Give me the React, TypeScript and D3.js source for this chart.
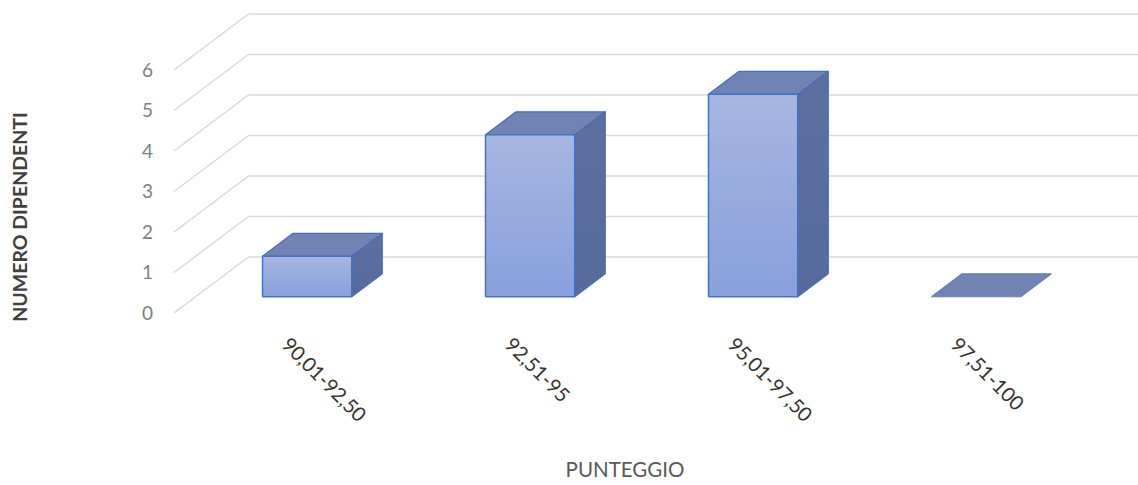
import React from "react";
import * as d3 from "d3";

const categories: string[] = ["90,01-92,50", "92,51-95", "95,01-97,50", "97,51-100"];
const values: number[] = [1, 4, 5, 0];
const yTicks: number[] = [0, 1, 2, 3, 4, 5, 6];
const yTitle = "NUMERO DIPENDENTI";
const xTitle = "PUNTEGGIO";

const W = 1138;
const H = 485;

// front plane of the 3D box
const FRONT_LEFT = 174;
const FRONT_RIGHT = 1066;
const FRONT_Y0 = 313;
const FRONT_YMAX = 70;
// depth vector (oblique projection)
const DX = 74.5;
const DY = -56;
const T1 = 0.29;
const T2 = 0.7;

export default function App() {
  const x = d3
    .scaleBand<string>()
    .domain(categories)
    .range([FRONT_LEFT, FRONT_RIGHT])
    .paddingInner(0.6)
    .paddingOuter(0.3);
  const y = d3.scaleLinear().domain([0, 6]).range([FRONT_Y0, FRONT_YMAX]);

  const proj = (px: number, v: number, t: number): [number, number] => [px + DX * t, y(v) + DY * t];
  const poly = (pts: [number, number][]) => d3.line()(pts.concat([pts[0]])) || "";

  const font = "Lato, 'Open Sans', sans-serif";

  return (
    <svg
      width={W}
      height={H}
      style={{ position: "absolute", left: 0, top: 0, background: "#fff" }}
      fontFamily={font}
    >
      <defs>
        <linearGradient id="frontGrad" x1="0" y1="0" x2="0" y2="1">
          <stop offset="0%" stopColor="#a7b6e1" />
          <stop offset="100%" stopColor="#88a0dc" />
        </linearGradient>
        <linearGradient id="sideGrad" x1="0" y1="0" x2="0" y2="1">
          <stop offset="0%" stopColor="#5d6f9f" />
          <stop offset="100%" stopColor="#566a9c" />
        </linearGradient>
      </defs>

      {/* back wall gridlines */}
      {yTicks.map((v) => {
        const [bx, by] = proj(FRONT_LEFT, v, 1);
        const [fx, fy] = proj(FRONT_LEFT, v, 0);
        return (
          <g key={"g" + v}>
            <line x1={bx} y1={by} x2={W} y2={by} stroke="#d9d9d9" strokeWidth={1.5} />
            <line x1={fx} y1={fy} x2={bx} y2={by} stroke="#d9d9d9" strokeWidth={1.5} />
          </g>
        );
      })}

      {/* tick labels */}
      {yTicks.map((v) => {
        const [fx, fy] = proj(FRONT_LEFT, v, 0);
        return (
          <text
            key={"t" + v}
            x={fx - 21}
            y={fy + 2}
            textAnchor="end"
            dominantBaseline="middle"
            fontSize={19}
            fill="#808080"
          >
            {v}
          </text>
        );
      })}

      {/* bars */}
      {categories.map((c, i) => {
        const x0 = x(c) as number;
        const x1 = x0 + x.bandwidth();
        const v = values[i];
        const front = [proj(x0, 0, T1), proj(x1, 0, T1), proj(x1, v, T1), proj(x0, v, T1)];
        const top = [proj(x0, v, T1), proj(x1, v, T1), proj(x1, v, T2), proj(x0, v, T2)];
        const side = [proj(x1, 0, T1), proj(x1, 0, T2), proj(x1, v, T2), proj(x1, v, T1)];
        return (
          <g key={"b" + i} strokeLinejoin="round">
            {v > 0 && <path d={poly(side)} fill="url(#sideGrad)" stroke="#4a6cb8" strokeWidth={1.2} />}
            <path d={poly(top)} fill="#7083b3" stroke={v > 0 ? "#4a6cb8" : "#6b7fb0"} strokeWidth={1.2} />
            {v > 0 && <path d={poly(front)} fill="url(#frontGrad)" stroke="#4472c4" strokeWidth={1.5} />}
          </g>
        );
      })}

      {/* category labels */}
      {categories.map((c) => {
        const cx = (x(c) as number) + x.bandwidth() / 2;
        const lx = cx - 5;
        const ly = 346;
        return (
          <text
            key={"c" + c}
            x={lx}
            y={ly}
            transform={`rotate(45, ${lx}, ${ly})`}
            textAnchor="start"
            fontSize={20}
            fill="#333333"
          >
            {c}
          </text>
        );
      })}

      {/* axis titles */}
      <text
        x={0}
        y={0}
        transform={`translate(27, 217) rotate(-90)`}
        textAnchor="middle"
        fontSize={19.5}
        fontWeight="bold"
        fill="#404040"
      >
        {yTitle}
      </text>
      <text x={625} y={477} textAnchor="middle" fontSize={20.5} fill="#595959">
        {xTitle}
      </text>
    </svg>
  );
}
